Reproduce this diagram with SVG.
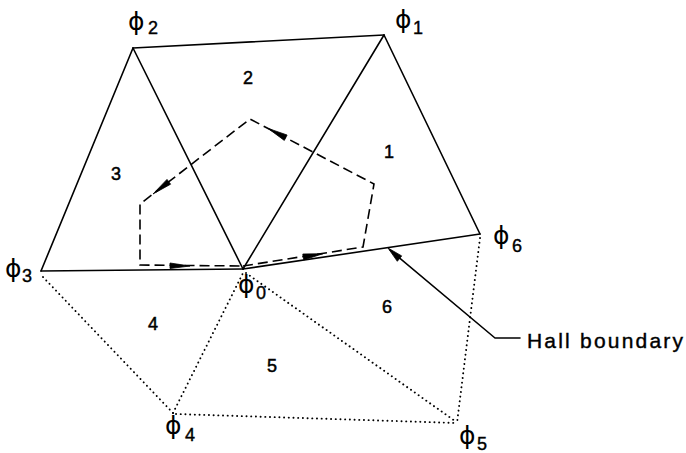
<svg xmlns="http://www.w3.org/2000/svg" width="686" height="453" viewBox="0 0 686 453">
<style>
.solid{fill:none;stroke:#000;stroke-width:1.6;stroke-linecap:round;stroke-linejoin:round}
.dot{fill:none;stroke:#000;stroke-width:1.9;stroke-dasharray:0.1 4.6;stroke-linecap:round}
.dash{fill:none;stroke:#000;stroke-width:1.6;stroke-dasharray:10 5}
.head{fill:#000;stroke:#000;stroke-width:0.8;stroke-linejoin:round}
.phi{font-family:"DejaVu Sans",sans-serif;font-size:25px;fill:#000}
.sub{font-family:"Liberation Sans",sans-serif;font-size:18px;fill:#000;stroke:#000;stroke-width:0.4}
.num{font-family:"Liberation Sans",sans-serif;font-size:18px;fill:#000;stroke:#000;stroke-width:0.5;text-anchor:middle}
.lbl{font-family:"Liberation Sans",sans-serif;font-size:21px;fill:#000;stroke:#000;stroke-width:0.4}
</style>
<rect width="686" height="453" fill="#fff"/>
<g id="connectors">
  <g id="solid-edges">
    <line class="solid" x1="133" y1="48" x2="384" y2="35"/>
    <line class="solid" x1="133" y1="48" x2="41" y2="271"/>
    <line class="solid" x1="133" y1="48" x2="243" y2="269"/>
    <line class="solid" x1="384" y1="35" x2="243" y2="269"/>
    <line class="solid" x1="384" y1="35" x2="480" y2="234"/>
    <line class="solid" x1="41" y1="271" x2="243" y2="269"/>
    <line class="solid" x1="243" y1="269" x2="480" y2="234"/>
  </g>
  <g id="dotted-edges">
    <line class="dot" x1="43" y1="277" x2="173" y2="413"/>
    <line class="dot" x1="173" y1="413" x2="243" y2="273"/>
    <line class="dot" x1="246" y1="273" x2="455" y2="421"/>
    <line class="dot" x1="176" y1="414" x2="457" y2="423"/>
    <line class="dot" x1="480" y1="238" x2="457" y2="423"/>
  </g>
  <g id="hall-path">
    <path class="dash" d="M243,266 L363,247 L374,184 L250,119 L140,204 L140,265 Z"/>
    <polygon class="head" points="190,266 170,263 170,268.5"/>
    <polygon class="head" points="323,253.7 303.8,259.9 302.8,254"/>
    <polygon class="head" points="268,128.4 287.1,135 284.3,140.4"/>
    <polygon class="head" points="153,194 170.6,184.2 167,179.4"/>
  </g>
  <g id="hall-leader">
    <polyline class="solid" points="520,338 495,338 390,250"/>
    <polygon class="head" points="388,248 401.7,255.9 397.3,261.3"/>
  </g>
</g>
<g id="phi0"><text class="phi" x="238" y="293">ϕ</text><text class="sub" x="256" y="299">0</text></g>
<g id="phi1"><text class="phi" x="395" y="28">ϕ</text><text class="sub" x="413" y="34">1</text></g>
<g id="phi2"><text class="phi" x="128" y="30">ϕ</text><text class="sub" x="148" y="34">2</text></g>
<g id="phi3"><text class="phi" x="5" y="277">ϕ</text><text class="sub" x="22" y="282">3</text></g>
<g id="phi4"><text class="phi" x="165" y="434">ϕ</text><text class="sub" x="185" y="441">4</text></g>
<g id="phi5"><text class="phi" x="459" y="444">ϕ</text><text class="sub" x="477" y="450">5</text></g>
<g id="phi6"><text class="phi" x="493" y="244">ϕ</text><text class="sub" x="512" y="252">6</text></g>
<g id="regions">
  <text class="num" x="248" y="84">2</text>
  <text class="num" x="389" y="158">1</text>
  <text class="num" x="116" y="180">3</text>
  <text class="num" x="153" y="330">4</text>
  <text class="num" x="272" y="372">5</text>
  <text class="num" x="387" y="313">6</text>
</g>
<g id="hall-label"><text class="lbl" x="527" y="348" textLength="156" lengthAdjust="spacing">Hall boundary</text></g>
</svg>
